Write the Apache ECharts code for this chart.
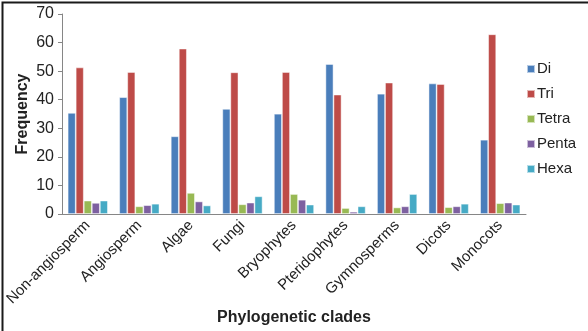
<!DOCTYPE html>
<html><head><meta charset="utf-8">
<script src="https://cdn.jsdelivr.net/npm/echarts@6/dist/echarts.min.js"></script>
<style>html,body{margin:0;padding:0;background:#fff}#c{width:588px;height:331px}</style>
</head><body><div id="c"></div>
<script>
var categories = ['Non-angiosperm','Angiosperm','Algae','Fungi','Bryophytes','Pteridophytes','Gymnosperms','Dicots','Monocots'];
var di    = [35.4, 40.9, 27.2, 36.8, 35.1, 52.5, 42.1, 45.7, 26.0];
var tri   = [51.3, 49.7, 57.9, 49.6, 49.7, 41.8, 46.0, 45.5, 62.9];
var tetra = [4.7, 2.7, 7.4, 3.4, 7.0, 2.1, 2.3, 2.4, 3.8];
var penta = [3.9, 3.1, 4.4, 4.0, 5.0, 0.8, 2.7, 2.7, 4.0];
var hexa  = [4.7, 3.6, 3.0, 6.2, 3.3, 2.7, 7.0, 3.6, 3.3];
var seriesNames = ['Di','Tri','Tetra','Penta','Hexa'];
var colors = ['#4a7ebb','#be4b48','#98b954','#7d60a0','#46aac5'];
var yTicks = [0,10,20,30,40,50,60,70];

var chart = echarts.init(document.getElementById('c'));
var font = 'Liberation Sans, Arial, sans-serif';
var data = [di, tri, tetra, penta, hexa];
chart.setOption({
  animation: false,
  textStyle: {fontFamily: font},
  grid: {left: 62, right: 62, top: 14, bottom: 112, containLabel: false},
  legend: {
    orient: 'vertical', left: 526, top: 61, padding: 0, itemWidth: 8, itemHeight: 8, itemGap: 9,
    icon: 'rect', textStyle: {fontSize: 15, lineHeight: 16, color: '#222', padding: [0,0,0,-3]},
    data: seriesNames
  },
  xAxis: {
    type: 'category', data: categories,
    name: 'Phylogenetic clades', nameLocation: 'middle', nameGap: 96, nameMoveOverlap: false,
    nameTextStyle: {fontSize: 16, fontWeight: 'bold', color: '#222'},
    axisLine: {lineStyle: {color: '#868686'}},
    axisTick: {lineStyle: {color: '#868686'}, length: 4},
    axisLabel: {rotate: 45, fontSize: 15, color: '#222', interval: 0, margin: 9}
  },
  yAxis: {
    type: 'value', min: yTicks[0], max: yTicks[yTicks.length-1], interval: 10,
    name: 'Frequency', nameLocation: 'middle', nameGap: 31, nameMoveOverlap: false,
    nameTextStyle: {fontSize: 16, fontWeight: 'bold', color: '#222'},
    axisLine: {show: true, lineStyle: {color: '#868686'}},
    axisTick: {show: true, lineStyle: {color: '#868686'}, length: 4},
    splitLine: {show: false},
    axisLabel: {fontSize: 16, color: '#222', margin: 8}
  },
  graphic: [{type: 'rect', left: 0, top: 0, shape: {width: 587, height: 330}, style: {fill: 'none', stroke: '#1a1a1a', lineWidth: 2}, silent: true}],
  series: seriesNames.map(function(n, i){
    return {
      name: n, type: 'bar', data: data[i], barGap: '0%', barCategoryGap: '22%',
      itemStyle: {color: colors[i], borderColor: 'rgba(255,255,255,0.6)', borderWidth: 0.8}
    };
  })
});
</script></body></html>
